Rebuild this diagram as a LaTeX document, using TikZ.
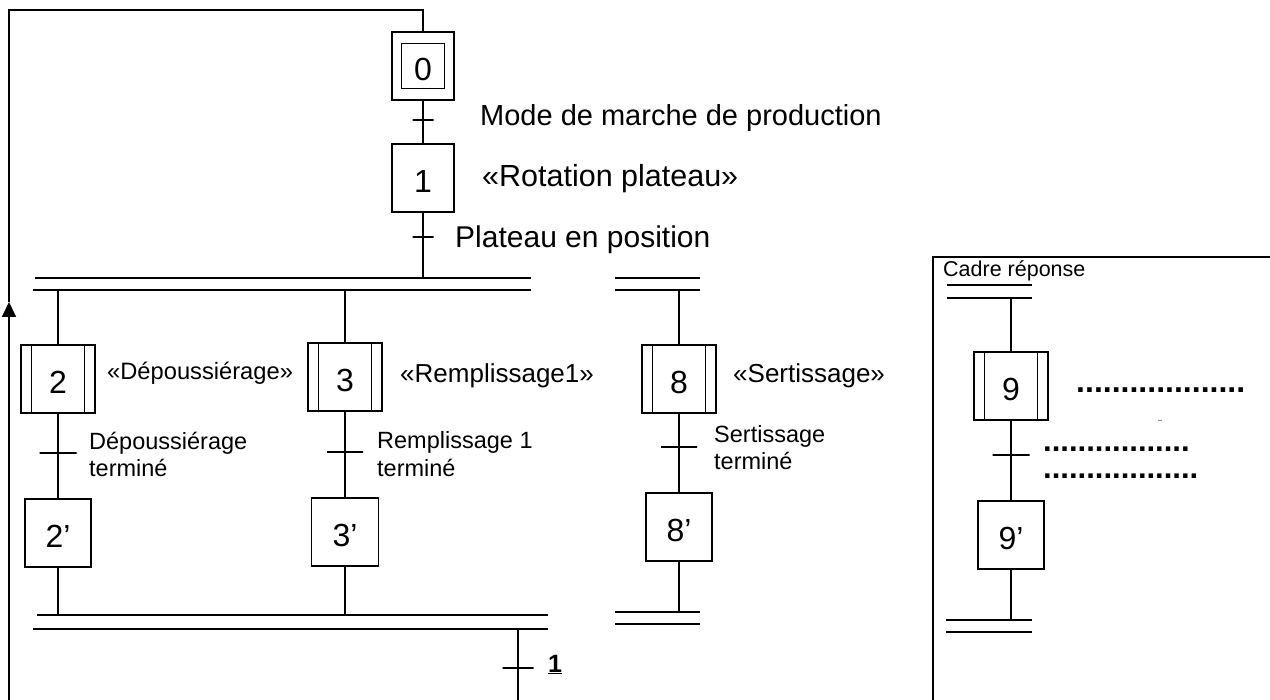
\documentclass[tikz,border=0pt]{standalone}
\usepackage{fontspec}
\setmainfont{Liberation Sans}
\usetikzlibrary{arrows.meta}
\newcommand\fsz[1]{\fontsize{#1pt}{#1pt}\selectfont}
\tikzset{
  ln/.style={line width=1.8pt},
  stepbox/.style={draw, line width=1.8pt, minimum width=#1, minimum height=68pt, inner sep=0pt,
     text height=29pt, text depth=0pt, font=\fsz{32}},
  stepbox/.default=66pt,
  macro/.style={stepbox=74pt, path picture={
     \draw[line width=1.8pt] ([xshift=10.5pt]path picture bounding box.north west) -- ([xshift=10.5pt]path picture bounding box.south west);
     \draw[line width=1.8pt] ([xshift=-10.5pt]path picture bounding box.north east) -- ([xshift=-10.5pt]path picture bounding box.south east);}},
  init/.style={stepbox=62pt, path picture={
     \draw[line width=1.8pt] ([xshift=9.5pt,yshift=-11.5pt]path picture bounding box.north west) rectangle ([xshift=-9.5pt,yshift=11.5pt]path picture bounding box.south east);}},
  tick/.style={draw, line width=1.8pt, minimum width=#1, minimum height=0pt, inner sep=0pt, outer sep=0pt},
  lbl/.style={anchor=base west, inner sep=0pt, font=\fsz{#1}},
  dotrow/.style={anchor=base west, inner sep=0pt, text height=5pt, text depth=0pt, font=\fsz{#1}\bfseries},
}
\begin{document}
\begin{tikzpicture}[x=1pt,y=-1pt]
\useasboundingbox (0,0) rectangle (1270,700);

% --- main sequence
\node[init] (s0) at (423,66) {0};
\node[tick=21pt] (t0) at (423,120) {};
\node[stepbox=62pt] (s1) at (423,178) {1};
\node[tick=21pt] (t1) at (423,237) {};
\coordinate (d0) at (423,278);
\draw[ln] (s0) -- (t0) -- (s1) -- (t1) -- (d0);

\node[lbl=29] (l0) at (480,126) {Mode de marche de production};
\node[lbl=30.5] (l1) at (482,187) {«Rotation plateau»};
\node[lbl=30] (l1t) at (455,248) {Plateau en position};

% --- divergence bar
\draw[ln] (35,278) -- (531,278);
\draw[ln] (33,290) -- (531,290);
\coordinate (divA) at (0,290);

% --- branch 2
\node[macro] (s2) at (58,379) {2};
\node[tick=37pt] (t2) at (58,453) {};
\node[stepbox=66pt] (s2p) at (58,533) {2’};
\draw[ln] (s2) -- (s2 |- divA);
\draw[ln] (s2) -- (t2) -- (s2p);
\node[lbl=23.7] (l2) at (107,380) {«Dépoussiérage»};
\node[lbl=23.5] (l2a) at (89,450) {Dépoussiérage};
\node[lbl=23.5] (l2b) at (89,477) {terminé};

% --- branch 3
\node[macro] (s3) at (345,377) {3};
\node[tick=36pt] (t3) at (345,452) {};
\node[stepbox=67pt] (s3p) at (345,532) {3’};
\draw[ln] (s3) -- (s3 |- divA);
\draw[ln] (s3) -- (t3) -- (s3p);
\node[lbl=26] (l3) at (400,383) {«Remplissage1»};
\node[lbl=23.5] (l3a) at (377,449) {Remplissage 1};
\node[lbl=23.5] (l3b) at (377,477) {terminé};

% --- convergence bar
\draw[ln] (37,615) -- (548,615);
\draw[ln] (33,629) -- (548,629);
\coordinate (convA) at (0,615);
\draw[ln] (s2p) -- (s2p |- convA);
\draw[ln] (s3p) -- (s3p |- convA);
\coordinate (convB) at (518,629);
\node[tick=31pt] (tB) at (518,668) {};
\coordinate (loopEnd) at (518,700);
\draw[ln] (convB) -- (tB) -- (loopEnd);
\node[lbl=25] (lB) at (548,672) {\bfseries\underline{1}};

% --- loop back
\coordinate (L1) at (9,700);
\coordinate (La) at (9,302);
\coordinate (L2) at (9,10);
\coordinate (L3) at (423,10);
\draw[ln,-{Triangle[length=15pt,width=14pt]}] (L1) -- (La);
\draw[ln] (La) -- (L2) -- (L3) -- (s0);

% --- branch 8
\draw[ln] (615,278) -- (700,278);
\draw[ln] (615,290) -- (700,290);
\coordinate (b8t) at (679,290);
\node[macro] (s8) at (679,379) {8};
\node[tick=36pt] (t8) at (679,447) {};
\node[stepbox=66pt] (s8p) at (679,527) {8’};
\coordinate (b8b) at (679,612);
\draw[ln] (b8t) -- (s8) -- (t8) -- (s8p) -- (b8b);
\draw[ln] (615,612) -- (700,612);
\draw[ln] (615,624) -- (700,624);
\node[lbl=26] (l8) at (733,383) {«Sertissage»};
\node[lbl=23.5] (l8a) at (714,443) {Sertissage};
\node[lbl=23.5] (l8b) at (714,470) {terminé};

% --- answer frame
\draw[ln] (933,700) -- (933,257) -- (1270,257);
\node[lbl=21.5] (lc) at (943,277) {Cadre réponse};
\draw[ln] (947,285) -- (1032,285);
\draw[ln] (947,298) -- (1032,298);
\coordinate (b9t) at (1011,298);
\node[macro] (s9) at (1011,386) {9};
\node[tick=37pt] (t9) at (1011,455) {};
\node[stepbox=66pt] (s9p) at (1011,535) {9’};
\coordinate (b9b) at (1011,620);
\draw[ln] (b9t) -- (s9) -- (t9) -- (s9p) -- (b9b);
\draw[ln] (946,620) -- (1032,620);
\draw[ln] (946,632) -- (1032,632);
\node[dotrow=32] (dt1) at (1076,393) {...................};
\node[dotrow=31] (dt2) at (1043,452) {.................};
\node[dotrow=31] (dt3) at (1043,479) {..................};
\draw[line width=0.6pt, gray] (1158,420) -- (1162,420);
\end{tikzpicture}
\end{document}
